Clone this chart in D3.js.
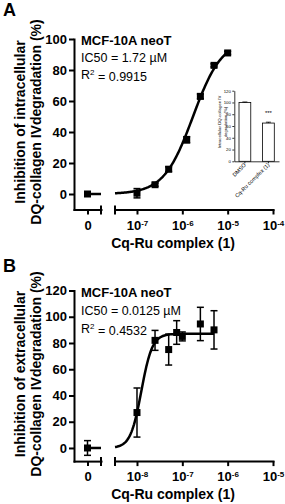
<!DOCTYPE html>
<html lang="en">
<head>
<meta charset="UTF-8">
<script src="https://d3js.org/d3.v7.min.js"></script>
<style>
  body { margin: 0; background: #fff; }
  svg text { font-family: "Liberation Sans", Arial, Helvetica, sans-serif; fill: #000; }
</style>
</head>
<body>
<svg width="285" height="504"></svg>
<script>
// ---- panel A : intracellular degradation ----
var concA  = [1e-7, 2.5e-7, 5e-7, 1.25e-6, 2.5e-6, 5e-6, 1e-5];
var inhibA = [0.5, 6, 16, 35, 63, 83, 91];
var errA   = [3, 1, 1.5, 2, 1.5, 1, 1];
var ctrlA = 0, ctrlErrA = 1;
var fitA = {ic50: 1.72e-6, bottom: 0, top: 100, hill: 1.35};
var yTicksA = [0, 20, 40, 60, 80, 100];
var decadesA = [-7, -6, -5, -4];
var textA = ["MCF-10A neoT", "IC50 = 1.72 \u00B5M", "0.9915"];

// inset bar chart in panel A
var insetCats = ["DMSO", "Cq-Ru complex (1)"];
var insetVals = [100, 65];
var insetErr  = [0.8, 1.5];
var insetTicks = [0, 20, 40, 60, 80, 100, 120];

// ---- panel B : extracellular degradation ----
var concB  = [1e-8, 2.5e-8, 5e-8, 7.5e-8, 1e-7, 2.5e-7, 5e-7];
var inhibB = [27, 82, 75, 88, 85, 94.5, 90];
var errB   = [18.7, 7.6, 11.8, 9, 3.4, 12.7, 14.6];
var ctrlB = 0, ctrlErrB = 5.6;
var fitB = {ic50: 1.25e-8, bottom: 0, top: 87, hill: 3.6};
var yTicksB = [0, 20, 40, 60, 80, 100, 120];
var decadesB = [-8, -7, -6, -5];
var textB = ["MCF-10A neoT", "IC50 = 0.0125 \u00B5M", "0.4532"];

var svg = d3.select("svg");

function logistic(f, c) {
  return f.bottom + (f.top - f.bottom) / (1 + Math.pow(f.ic50 / c, f.hill));
}

function styleAxis(sel, size) {
  sel.attr("font-family", null).attr("font-size", null);
  sel.selectAll("path.domain").attr("stroke", "#000").attr("stroke-width", 2).attr("stroke-linecap", "square");
  sel.selectAll(".tick line").attr("stroke", "#000").attr("stroke-width", 2);
  sel.selectAll(".tick text").style("font-size", size + "px").style("font-weight", "bold");
}

function drawPanel(p) {
  var g = svg.append("g");
  var axisX = 74;
  var y = d3.scaleLinear().domain([-10, p.yMax]).range(p.yRange);
  var xz = d3.scaleLinear().domain([-1, 1]).range([axisX, 101]);
  var xl = d3.scaleLog().domain([Math.pow(10, p.decades[0] - 0.485), Math.pow(10, p.decades[3])]).range([115, 273]);
  var baseY = y(-10);

  // panel letter
  g.append("text").attr("x", 3).attr("y", p.letterY)
    .style("font-size", "18px").style("font-weight", "bold").text(p.letter);

  // y axis
  g.append("g").attr("transform", "translate(" + axisX + ",0)")
    .call(d3.axisLeft(y).tickValues(p.yTicks).tickSize(5).tickSizeOuter(0).tickPadding(2))
    .call(styleAxis, 13);

  // x axis: zero segment
  g.append("g").attr("transform", "translate(0," + baseY + ")")
    .call(d3.axisBottom(xz).tickValues([0]).tickFormat(d3.format("d")).tickSize(5).tickSizeOuter(0).tickPadding(6))
    .call(styleAxis, 13);

  // x axis: log segment
  var xa = g.append("g").attr("transform", "translate(0," + baseY + ")")
    .call(d3.axisBottom(xl).tickValues(p.decades.map(function(e) { return Math.pow(10, e); }))
      .tickSize(5).tickSizeOuter(0).tickPadding(6).tickFormat(""))
    .call(styleAxis, 13);
  xa.selectAll(".tick text").each(function(d) {
    var t = d3.select(this);
    t.append("tspan").text("10");
    t.append("tspan").attr("dy", "-0.5em").style("font-size", "8px").text(Math.round(Math.log10(d)));
  });

  // break marks
  [101, 115].forEach(function(bx) {
    g.append("line").attr("x1", bx).attr("x2", bx).attr("y1", baseY - 4).attr("y2", baseY + 5)
      .attr("stroke", "#000").attr("stroke-width", 2);
  });

  // axis titles
  g.append("text").attr("x", 173).attr("y", p.xTitleY).attr("text-anchor", "middle")
    .style("font-size", "14px").style("font-weight", "bold").text("Cq-Ru complex (1)");
  var yt = g.append("text").attr("transform", "translate(0," + p.yTitleC + ") rotate(-90)")
    .attr("text-anchor", "middle").style("font-size", "14px").style("font-weight", "bold");
  yt.append("tspan").attr("x", 0).attr("y", 25).text(p.yTitle1);
  yt.append("tspan").attr("x", 0).attr("y", 41).text("DQ-collagen IVdegradation (%)");

  // annotation text
  g.append("text").attr("x", 81).attr("y", p.textY[0])
    .style("font-size", "13px").style("font-weight", "bold").text(p.text[0]);
  g.append("text").attr("x", 81).attr("y", p.textY[1]).style("font-size", "12.5px").text(p.text[1]);
  var r2 = g.append("text").attr("x", 81).attr("y", p.textY[2]).style("font-size", "12.5px");
  r2.append("tspan").text("R");
  r2.append("tspan").attr("dy", "-0.45em").style("font-size", "8px").text("2");
  r2.append("tspan").attr("dy", "0.45em").text(" = " + p.text[2]);

  // fitted curve
  var lo = Math.log10(xl.domain()[0]), hi = Math.log10(p.conc[p.conc.length - 1]);
  var curve = d3.range(0, 121).map(function(i) { return Math.pow(10, lo + (hi - lo) * i / 120); });
  g.append("path").datum(curve)
    .attr("d", d3.line().x(function(c) { return xl(c); }).y(function(c) { return y(logistic(p.fit, c)); }))
    .attr("fill", "none").attr("stroke", "#000").attr("stroke-width", 2.5);
  g.append("line").attr("x1", xz(0)).attr("x2", 101).attr("y1", y(p.fit.bottom)).attr("y2", y(p.fit.bottom))
    .attr("stroke", "#000").attr("stroke-width", 2.5);

  // points with error bars
  var pts = p.conc.map(function(c, i) { return {x: xl(c), v: p.vals[i], e: p.errs[i]}; });
  pts.unshift({x: xz(0), v: p.ctrl, e: p.ctrlErr});
  var eb = g.append("g").attr("stroke", "#000").attr("stroke-width", 1.5);
  pts.forEach(function(d) {
    var y1 = y(d.v + d.e), y2 = y(d.v - d.e);
    eb.append("line").attr("x1", d.x).attr("x2", d.x).attr("y1", y1).attr("y2", y2);
    eb.append("line").attr("x1", d.x - 3.5).attr("x2", d.x + 3.5).attr("y1", y1).attr("y2", y1);
    eb.append("line").attr("x1", d.x - 3.5).attr("x2", d.x + 3.5).attr("y1", y2).attr("y2", y2);
  });
  g.selectAll("rect.pt").data(pts).enter().append("rect").attr("class", "pt")
    .attr("x", function(d) { return d.x - 3.5; }).attr("y", function(d) { return y(d.v) - 3.5; })
    .attr("width", 7).attr("height", 7).attr("fill", "#000");
}

drawPanel({letter: "A", letterY: 16, yMax: 100, yRange: [209.5, 39], yTicks: yTicksA, decades: decadesA,
  conc: concA, vals: inhibA, errs: errA, ctrl: ctrlA, ctrlErr: ctrlErrA, fit: fitA,
  text: textA, textY: [45, 62, 79], xTitleY: 248, yTitleC: 122, yTitle1: "Inhibition of intracellular"});

drawPanel({letter: "B", letterY: 272, yMax: 120, yRange: [461.1, 290.5], yTicks: yTicksB, decades: decadesB,
  conc: concB, vals: inhibB, errs: errB, ctrl: ctrlB, ctrlErr: ctrlErrB, fit: fitB,
  text: textB, textY: [297, 315, 333], xTitleY: 499, yTitleC: 374, yTitle1: "Inhibition of extracellular"});

// ---- inset ----
(function() {
  var ix = 234.3;
  var iy = d3.scaleLinear().domain([0, 120]).range([161.3, 90.7]);
  var ib = d3.scaleBand().domain(insetCats).range([ix, 279]).paddingInner(0.5).paddingOuter(0.2);
  var g = svg.append("g");
  var ya = g.append("g").attr("transform", "translate(" + ix + ",0)")
    .call(d3.axisLeft(iy).tickValues(insetTicks).tickSize(2).tickSizeOuter(0).tickPadding(1.5));
  var xa = g.append("g").attr("transform", "translate(0," + iy(0) + ")")
    .call(d3.axisBottom(ib).tickSize(2).tickSizeOuter(0).tickFormat(""));
  [ya, xa].forEach(function(a) {
    a.attr("font-family", null).attr("font-size", null);
    a.selectAll("path.domain, .tick line").attr("stroke", "#000").attr("stroke-width", 0.8);
    a.selectAll(".tick text").style("font-size", "4.3px");
  });
  // rotated category labels
  insetCats.forEach(function(c) {
    var cx = ib(c) + ib.bandwidth() / 2;
    g.append("text").attr("transform", "translate(" + (cx + 1.5) + "," + (iy(0) + 4) + ") rotate(-45)")
      .attr("text-anchor", "end").style("font-size", "5.5px").text(c);
  });
  g.selectAll("rect.bar").data(insetVals).enter().append("rect").attr("class", "bar")
    .attr("x", function(d, i) { return ib(insetCats[i]); }).attr("y", function(d) { return iy(d); })
    .attr("width", ib.bandwidth()).attr("height", function(d) { return iy(0) - iy(d); })
    .attr("fill", "#fff").attr("stroke", "#000").attr("stroke-width", 0.8);
  insetVals.forEach(function(v, i) {
    var cx = ib(insetCats[i]) + ib.bandwidth() / 2;
    g.append("line").attr("x1", cx).attr("x2", cx).attr("y1", iy(v + insetErr[i])).attr("y2", iy(v))
      .attr("stroke", "#000").attr("stroke-width", 0.8);
    g.append("line").attr("x1", cx - 2.5).attr("x2", cx + 2.5).attr("y1", iy(v + insetErr[i])).attr("y2", iy(v + insetErr[i]))
      .attr("stroke", "#000").attr("stroke-width", 0.8);
  });
  var c2 = ib(insetCats[1]) + ib.bandwidth() / 2;
  g.append("text").attr("x", c2).attr("y", iy(insetVals[1]) - 8).attr("text-anchor", "middle")
    .style("font-size", "6px").text("***");
  var t = g.append("text").attr("transform", "translate(0,122) rotate(-90)").attr("text-anchor", "middle")
    .style("font-size", "4.3px");
  t.append("tspan").attr("x", 0).attr("y", 221).text("Intracellular DQ-collagen IV");
  t.append("tspan").attr("x", 0).attr("y", 226.5).text("degradation (%)");
})();
</script>
</body>
</html>
